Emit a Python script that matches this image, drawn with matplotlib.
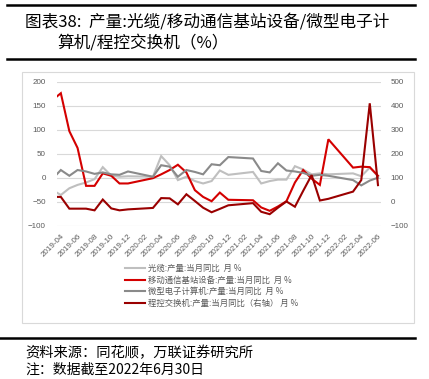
import matplotlib
matplotlib.use('Agg')
import matplotlib.pyplot as plt
import pandas as pd
from matplotlib.lines import Line2D
from matplotlib.patches import Rectangle

plt.rcParams['font.family'] = ['Noto Sans CJK SC', 'DejaVu Sans']

# ---------------- data ----------------
dates = ["2019-04-15", "2019-04-30", "2019-05-31", "2019-06-30", "2019-07-31", "2019-08-31",
         "2019-09-30", "2019-10-31", "2019-11-30", "2019-12-31",
         "2020-03-31", "2020-04-30", "2020-05-31", "2020-06-30", "2020-07-31", "2020-08-31",
         "2020-09-30", "2020-10-31", "2020-11-30", "2020-12-31",
         "2021-03-31", "2021-04-30", "2021-05-31", "2021-06-30", "2021-07-31", "2021-08-31",
         "2021-09-30", "2021-10-31", "2021-11-30", "2021-12-31",
         "2022-03-31", "2022-04-30", "2022-05-31", "2022-06-30"]

fiber = [-31, -36, -22, -15, -10, -3, 22, 4, 2, 3,
         2, 45, 26, -5, 2, -7, -12, -7, 15, 6,
         12, -12, -7, -4, -4, 24, 17, 7, 9, 7,
         9, 3, 21, 3]

base_station = [169, 176, 97, 62, -17, -17, 9, 4, -12, -12,
                -1, 7, 16, 27, 11, -26, -40, -49, -31, -46,
                -47, -62, -69, -60, -49, -10, 16, -2, -15, 80,
                21, 23, 22, 4]

microcomputer = [7, 16, 4, 16, 13, 8, 11, 7, 6, 13,
                 2, 26, 23, 2, 16, 12, 7, 28, 26, 43,
                 40, 14, 11, 30, 15, 13, 10, 4, 6, 4,
                 -5, -16, -6, 0]

switch = [20, 20, -29, -29, -29, -36, 9, -28, -36, -32,
          -26, 15, 14, -11, 31, 3, -25, -44, -30, -15,
          -6, -42, -52, -25, 1, -21, 45, 111, 5, 12,
          42, 90, 410, 69]

series_names = ["光缆:产量:当月同比  月 %",
                "移动通信基站设备:产量:当月同比  月 %",
                "微型电子计算机:产量:当月同比  月 %",
                "程控交换机:产量:当月同比（右轴） 月 %"]

left_ticks = [-100, -50, 0, 50, 100, 150, 200]
right_ticks = [-100, 0, 100, 200, 300, 400, 500]
tick_months = pd.date_range("2019-04-30", "2022-06-30", freq="2ME")

title_line1 = "图表38:  产量:光缆/移动通信基站设备/微型电子计"
title_line2 = "算机/程控交换机（%）"
source_text = "资料来源：同花顺，万联证券研究所"
note_text = "注：数据截至2022年6月30日"

# ---------------- layout ----------------
W, H = 429, 379
fig = plt.figure(figsize=(W / 100, H / 100), dpi=100)


def fx(px):
    return px / W


def fy(py):
    return 1 - py / H


x = pd.to_datetime(dates)

c_fiber = "#bfbfbf"
c_base = "#d40000"
c_micro = "#8a8a8a"
c_switch = "#9a0000"
grid_c = "#d9d9d9"
txt_c = "#595959"
num_font = ["Liberation Sans", "DejaVu Sans"]

# header rules and title
fig.add_artist(Line2D([fx(7), fx(415)], [fy(5), fy(5)], color="black", lw=1.8))
fig.add_artist(Line2D([fx(7), fx(415)], [fy(58.5), fy(58.5)], color="black", lw=1.8))
fig.text(fx(25), fy(22), title_line1, fontsize=12, va="center", ha="left", color="black")
fig.text(fx(57), fy(42.5), title_line2, fontsize=12, va="center", ha="left", color="black")

# chart frame
fig.add_artist(Rectangle((fx(22), fy(323)), fx(414) - fx(22), fy(72) - fy(323),
                         fill=False, edgecolor=grid_c, lw=0.8))

ax = fig.add_axes([fx(57), fy(225.7), fx(381) - fx(57), fy(81.7) - fy(225.7)])
ax2 = ax.twinx()

l1, = ax.plot(x, fiber, color=c_fiber, lw=1.5, solid_joinstyle="miter")
l2, = ax.plot(x, base_station, color=c_base, lw=1.5, solid_joinstyle="miter")
l3, = ax.plot(x, microcomputer, color=c_micro, lw=1.5, solid_joinstyle="miter")
l4, = ax2.plot(x, switch, color=c_switch, lw=1.5, solid_joinstyle="miter")

ax.set_ylim(-100, 200)
ax2.set_ylim(-100, 500)
ax.set_xlim(pd.Timestamp("2019-04-16"), pd.Timestamp("2022-07-11"))

ax.set_yticks(left_ticks)
ax.set_yticklabels([str(v).replace("-", "\u2212") for v in left_ticks],
                   fontsize=5.8, color=txt_c, family=num_font)
ax2.set_yticks(right_ticks)
ax2.set_yticklabels([str(v).replace("-", "\u2212") for v in right_ticks],
                    fontsize=5.8, color=txt_c, family=num_font)

ax.set_xticks(tick_months)
ax.set_xticklabels([d.strftime("%Y-%m") for d in tick_months], rotation=45,
                   ha="right", rotation_mode="anchor", fontsize=5.8, color=txt_c,
                   family=num_font)

ax.grid(axis="y", color=grid_c, lw=0.8)
ax.set_axisbelow(True)
for a in (ax, ax2):
    for s in a.spines.values():
        s.set_visible(False)
ax.tick_params(axis="y", length=0, pad=8)
ax2.tick_params(axis="y", length=0, pad=7)
ax.tick_params(axis="x", length=0, pad=5)

fig.legend([l1, l2, l3, l4], series_names, loc="upper left",
           bbox_to_anchor=(fx(125), fy(264)), frameon=False, fontsize=6,
           handlelength=2.4, handletextpad=0.3, labelspacing=0.3,
           labelcolor=txt_c, borderpad=0, borderaxespad=0)

# footer
fig.add_artist(Line2D([fx(0), fx(415)], [fy(337.5), fy(337.5)], color="black", lw=1.8))
fig.text(fx(25), fy(353), source_text, fontsize=10.3, va="center", ha="left", color="black")
fig.text(fx(25), fy(370), note_text, fontsize=10, va="center", ha="left", color="black")

fig.savefig("out.png", dpi=100)
